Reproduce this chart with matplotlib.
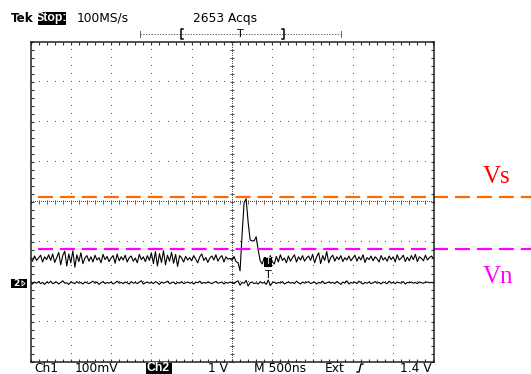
import numpy as np
import matplotlib
matplotlib.use("Agg")
import matplotlib.pyplot as plt
from matplotlib.patches import Rectangle

plt.rcParams["lines.scale_dashes"] = False
plt.rcParams["font.family"] = ["DejaVu Sans"]

# --- acquisition settings -------------------------------------------------
time_per_div_us = 0.5          # M 500ns
ch1_mv_per_div = 100.0         # Ch1 100mV
ch2_v_per_div = 1.0            # Ch2 1 V
sample_step_us = 0.025

# Ch1 (mV, relative to screen centre)
ch1_mv = [
    -139, -148, -135, -146, -140, -133, -150, -137, -144, -132,
    -146, -130, -151, -139, -126, -157, -134, -123, -160, -130,
    -152, -122, -163, -132, -149, -127, -154, -140, -134, -148,
    -137, -150, -133, -145, -139, -152, -131, -144, -136, -149,
    -140, -134, -153, -130, -147, -137, -145, -133, -150, -139,
    -135, -148, -140, -152, -131, -144, -137, -149, -134, -146,
    -127, -154, -124, -160, -129, -151, -122, -157, -133, -148,
    -126, -153, -131, -161, -134, -140, -150, -136, -145, -139,
    -147, -134, -143, -152, -137, -130, -146, -139, -151, -140,
    -135, -145, -132, -148, -139, -134, -150, -137, -143, -141,
    -146, -136, -149,
    -152, -172, -82, -2, 8, -50, -95, -97, -97, -87, -120, -147, -155,
    -139, -152, -162, -134, -149, -155, -136, -150, -132, -146, -140, -152, -135, -148,
    -139, -132, -150, -137, -145, -134, -148, -140, -135, -146,
    -131, -152, -137, -127, -154, -134, -146, -124, -152, -139,
    -133, -148, -137, -144, -134, -149, -139, -145, -135, -147,
    -140, -133, -148, -137, -145, -132, -151, -139, -144, -135,
    -147, -137, -142, -150, -134, -145, -139, -148, -135, -144,
    -137, -150, -132, -145, -140, -133, -149, -138, -147, -134,
    -144, -131, -149, -137, -141, -147, -133, -145, -139, -135, -141,
]

# Ch2 (V, relative to screen centre)
ch2_v = [
    -2.02, -2.05, -2.00, -2.03, -1.99, -2.04, -2.01, -2.06, -2.00, -2.03,
    -1.98, -2.04, -2.02, -2.00, -2.05, -2.01, -1.97, -2.03, -2.02, -2.06,
    -2.00, -2.02, -2.04, -1.99, -2.03, -2.01, -2.05, -2.00, -2.02, -2.04,
    -2.01, -1.98, -2.03, -2.00, -2.06, -2.02, -1.99, -2.04, -2.01, -2.03,
    -2.00, -2.05, -2.02, -1.98, -2.03, -2.01, -2.04, -2.00, -2.02, -2.05,
    -1.99, -2.03, -2.01, -2.04, -2.00, -1.97, -2.05, -2.02, -2.00, -2.03,
    -2.01, -2.04, -1.99, -2.02, -2.06, -2.00, -2.03, -2.01, -1.98, -2.04,
    -2.02, -2.00, -2.05, -2.01, -2.03, -1.99, -2.04, -2.02, -2.00, -2.03,
    -2.01, -2.05, -2.00, -2.02, -1.98, -2.04, -2.01, -2.03, -2.00, -2.02,
    -2.04, -2.01, -1.99, -2.03, -2.02, -2.00, -2.05, -2.01, -2.03, -2.00,
    -2.02, -2.04, -2.00, -1.97, -2.08, -2.01, -2.03, -1.96, -2.10, -2.02,
    -2.00, -2.04, -2.02, -2.05, -1.99, -2.03, -2.01, -2.06, -1.95, -2.09,
    -2.02, -2.00, -2.04, -2.01, -2.03, -1.99, -2.05, -2.02, -2.00, -2.03,
    -2.01, -2.04, -1.98, -2.02, -2.05, -2.00, -2.03, -2.01, -1.99, -2.04,
    -2.02, -2.00, -2.05, -2.01, -2.03, -1.98, -2.04, -2.02, -2.00, -2.03,
    -2.01, -2.04, -1.99, -2.02, -2.06, -2.00, -2.03, -1.97, -2.05, -2.01,
    -2.03, -2.00, -2.04, -1.98, -2.02, -2.05, -2.01, -2.03, -2.00, -2.04,
    -2.02, -1.99, -2.03, -2.01, -2.05, -2.00, -2.02, -2.04, -1.98, -2.03,
    -2.01, -2.04, -2.00, -2.02, -2.03, -1.99, -2.05, -2.01, -2.02, -2.00,
    -2.03, -2.01, -2.04, -2.00, -2.02, -2.03, -2.01, -2.00, -2.02, -2.01,
    -2.02,
]

# marker levels (Ch1 mV)
vs_level_mv = 12.5
vn_level_mv = -117.5
level_labels = ["Vs", "Vn"]

header_texts = ["100MS/s", "2653 Acqs"]
footer_texts = ["Ch1", "100mV", "Ch2", "1 V", "M 500ns", "Ext", "1.4 V"]

# --- figure ---------------------------------------------------------------
W, H = 531, 374
fig = plt.figure(figsize=(W / 100, H / 100), dpi=100)
fig.patch.set_facecolor("white")

L, R, T, B = 30.5, 433.5, 42.0, 362.0
ax = fig.add_axes([L / W, 1 - B / H, (R - L) / W, (B - T) / H])
ax.set_xlim(-5 * time_per_div_us, 5 * time_per_div_us)
ax.set_ylim(-4, 4)
for s in ax.spines.values():
    s.set_color("#222222")
    s.set_linewidth(1.1)
ax.set_xticks(np.arange(-2.5, 2.51, 0.5))
ax.set_xticks(np.arange(-2.5, 2.51, 0.1), minor=True)
ax.set_yticks(np.arange(-4, 4.01, 1))
ax.set_yticks(np.arange(-4, 4.01, 0.2), minor=True)
ax.tick_params(which="both", direction="in", top=True, right=True,
               length=2.2, width=0.8, color="#333333",
               labelbottom=False, labelleft=False)

dot_kw = dict(ls="none", marker=",", color="#555555")
xm = np.arange(-2.5, 2.501, 0.1)
ym = np.arange(-4, 4.001, 0.2)
for k in range(1, 10):
    xg = -2.5 + 0.5 * k
    if k == 5:
        continue
    ax.plot(np.full_like(ym, xg), ym, **dot_kw)
for k in range(1, 8):
    yg = -4 + k
    if k == 4:
        continue
    ax.plot(xm, np.full_like(xm, yg), **dot_kw)

# centre cross: dense dots plus minor ticks
xd = np.arange(-2.5, 2.501, 0.025)
yd = np.arange(-4, 4.001, 0.05)
ax.plot(xd, np.zeros_like(xd), **dot_kw)
ax.plot(np.zeros_like(yd), yd, **dot_kw)
ax.plot(xm, np.zeros_like(xm), ls="none", marker="|", ms=3.0, mew=0.7, color="#555555")
ax.plot(np.zeros_like(ym), ym, ls="none", marker="_", ms=3.0, mew=0.7, color="#555555")

# traces
t1 = -2.5 + sample_step_us * np.arange(len(ch1_mv))
t2 = -2.5 + sample_step_us * np.arange(len(ch2_v))
ax.plot(t1, np.array(ch1_mv) / ch1_mv_per_div, color="black", lw=0.8)
ax.plot(t2, np.array(ch2_v) / ch2_v_per_div, color="black", lw=0.8)

# Vs / Vn marker lines running past the graticule
x_start = -2.41
x_end = 3.72
ax.plot([x_start, x_end], [vs_level_mv / ch1_mv_per_div] * 2, color="#FF6A00",
        lw=1.6, dashes=(10.8, 5.0), dash_capstyle="butt", clip_on=False)
ax.plot([x_start, x_end], [vn_level_mv / ch1_mv_per_div] * 2, color="#FF00FF",
        lw=1.6, dashes=(10.8, 5.0), dash_capstyle="butt", clip_on=False)

# --- overlay in pixel space for the instrument readouts --------------------
ov = fig.add_axes([0, 0, 1, 1], facecolor="none")
ov.set_xlim(0, W)
ov.set_ylim(H, 0)
ov.axis("off")

ov.text(483, 177, level_labels[0], color="#FF0000", fontsize=18,
        family="Liberation Serif", va="center", ha="left")
ov.text(483, 277, level_labels[1], color="#FF00FF", fontsize=18,
        family="Liberation Serif", va="center", ha="left")

fs = 8.8
ov.text(11, 18, "Tek", fontsize=8.6, fontweight="bold", va="center", ha="left")
ov.add_patch(Rectangle((37.5, 12), 28.5, 12.5, fc="black", ec="none"))
ov.text(51.7, 18.3, "Stop:", fontsize=8.8, fontweight="bold", color="white",
        family="Liberation Sans", va="center", ha="center")
ov.text(77, 18, header_texts[0], fontsize=fs, va="center", ha="left")
ov.text(193, 18, header_texts[1], fontsize=fs, va="center", ha="left")

# record bar
ov.plot([140, 341], [34, 34], color="#666666", lw=0.7, ls=(0, (1, 1)))
ov.plot([140, 140], [31, 37], color="#666666", lw=0.7)
ov.plot([341, 341], [31, 37], color="#666666", lw=0.7)
ov.plot([183, 181, 181, 183], [29, 29, 39, 39], color="black", lw=1.1)
ov.plot([282, 284, 284, 282], [29, 29, 39, 39], color="black", lw=1.1)
ov.text(240, 34, "T", fontsize=8, va="center", ha="center")

# Ch2 ground marker
ov.add_patch(Rectangle((11, 279), 16, 9, fc="black", ec="none"))
ov.text(16, 283.5, "2", fontsize=6.5, color="white", fontweight="bold", va="center", ha="center")
ov.plot([22, 25, 22, 22], [281, 283.5, 286, 281], color="white", lw=0.6)

# trigger markers
ov.add_patch(Rectangle((264, 257), 8, 10, fc="black", ec="none"))
ov.text(268, 262, "T", fontsize=6, color="white", va="center", ha="center")
ov.text(268, 275, "T", fontsize=8, va="center", ha="center")

# footer
fy = 368
ov.text(34, fy, footer_texts[0], fontsize=fs, va="center", ha="left")
ov.text(75, fy, footer_texts[1], fontsize=fs, va="center", ha="left")
ov.add_patch(Rectangle((145.5, 362.5), 26, 11.5, fc="black", ec="none"))
ov.text(158.5, fy + 0.3, footer_texts[2], fontsize=8.8, fontweight="bold", color="white",
        family="Liberation Sans", va="center", ha="center")
ov.text(228, fy, footer_texts[3], fontsize=fs, va="center", ha="right")
ov.text(254, fy, footer_texts[4], fontsize=fs, va="center", ha="left")
ov.text(325, fy, footer_texts[5], fontsize=fs, va="center", ha="left")
ov.plot([357, 359, 361, 363], [372, 372, 364, 364], color="black", lw=1.0)
ov.text(432, fy, footer_texts[6], fontsize=fs, va="center", ha="right")

fig.savefig("out.png", dpi=100, facecolor="white")
